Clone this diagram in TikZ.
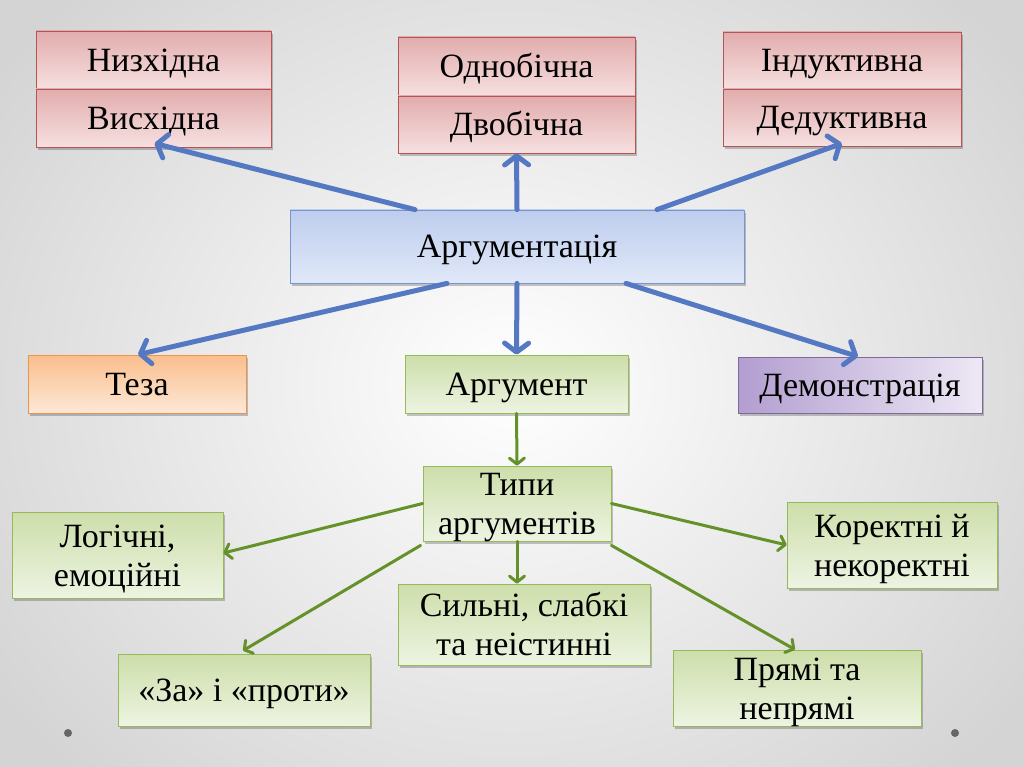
\documentclass[tikz,border=0pt]{standalone}
\usepackage{fontspec}
\setmainfont{Liberation Serif}
\usetikzlibrary{arrows.meta,shadows,calc}
\definecolor{bgedge}{RGB}{212,212,212}
\definecolor{pinktop}{RGB}{226,172,173}
\definecolor{pinkbot}{RGB}{246,224,224}
\definecolor{pinkline}{RGB}{180,85,85}
\definecolor{bluetop}{RGB}{190,205,238}
\definecolor{bluebot}{RGB}{224,232,248}
\definecolor{blueline}{RGB}{120,150,205}
\definecolor{greentop}{RGB}{205,222,170}
\definecolor{greenbot}{RGB}{237,244,226}
\definecolor{greenline}{RGB}{150,185,90}
\definecolor{orangetop}{RGB}{250,190,140}
\definecolor{orangebot}{RGB}{253,232,215}
\definecolor{orangeline}{RGB}{230,150,80}
\definecolor{purpleleft}{RGB}{178,158,208}
\definecolor{purpleright}{RGB}{238,232,245}
\definecolor{purpleline}{RGB}{125,105,155}
\definecolor{bluearrow}{RGB}{85,120,195}
\definecolor{greenarrow}{RGB}{100,145,40}
\tikzset{
  box/.style={draw, line width=0.8pt, inner sep=0pt, align=center,
    font=\fontsize{34}{39}\selectfont, text height=23pt, text depth=0pt,
    drop shadow={shadow xshift=2pt, shadow yshift=-3pt, opacity=0.22, fill=black}},
  twoline/.style={text height=62pt, text depth=0pt},
  pinkbox/.style={box, draw=pinkline, top color=pinktop, bottom color=pinkbot},
  bluebox/.style={box, draw=blueline, top color=bluetop, bottom color=bluebot},
  greenbox/.style={box, draw=greenline, top color=greentop, bottom color=greenbot},
  orangebox/.style={box, draw=orangeline, top color=orangetop, bottom color=orangebot},
  purplebox/.style={box, draw=purpleline, left color=purpleleft, right color=purpleright},
  bluearr/.style={draw=bluearrow, line width=5pt, line cap=round,
    -{Straight Barb[length=9pt, width=24pt, round]}},
  greenarr/.style={draw=greenarrow, line width=3pt, line cap=round,
    -{Straight Barb[length=6pt, width=15pt, round]}},
  dot/.style={circle, fill=black!60, minimum size=8pt, inner sep=0pt}
}
\begin{document}
\begin{tikzpicture}[x=1pt,y=-1pt]
\begin{scope}
\clip (0,0) rectangle (1024,767);
\shade[inner color=white, outer color=bgedge] (-120,-160) rectangle (1144,927);
\end{scope}
\useasboundingbox (0,0) rectangle (1024,767);
\node[dot] (d1) at (68,733) {};
\node[dot] (d2) at (955,733) {};

\node[pinkbox, minimum width=235pt, minimum height=58pt] (n1) at (153.5,60) {Низхідна};
\node[pinkbox, minimum width=235pt, minimum height=58pt] (n2) at (153.5,118) {Висхідна};
\node[pinkbox, minimum width=237pt, minimum height=59pt] (o1) at (516.5,66.5) {Однобічна};
\node[pinkbox, minimum width=237pt, minimum height=57pt] (o2) at (516.5,124.5) {Двобічна};
\node[pinkbox, minimum width=238pt, minimum height=57pt] (i1) at (842,60.5) {Індуктивна};
\node[pinkbox, minimum width=238pt, minimum height=57pt] (i2) at (842,117.5) {Дедуктивна};

\node[bluebox, minimum width=454pt, minimum height=73pt] (arg) at (517,246.5) {Аргументація};

\node[orangebox, minimum width=218pt, minimum height=58pt] (teza) at (137,384) {Теза};
\node[greenbox, minimum width=223pt, minimum height=58pt] (argument) at (516.5,384) {Аргумент};
\node[purplebox, minimum width=244pt, minimum height=56pt] (demo) at (860,385) {Демонстрація};

\node[greenbox, twoline, minimum width=188pt, minimum height=75pt] (types) at (517,503.5) {Типи\\аргументів};
\node[greenbox, twoline, minimum width=211pt, minimum height=86pt] (log) at (117.5,555) {Логічні,\\емоційні};
\node[greenbox, twoline, minimum width=252pt, minimum height=81pt] (strong) at (524,624.5) {Сильні, слабкі\\та неістинні};
\node[greenbox, twoline, minimum width=210pt, minimum height=86pt] (corr) at (892,545) {Коректні й\\некоректні};
\node[greenbox, minimum width=252pt, minimum height=72pt] (za) at (244,690) {«За» і «проти»};
\node[greenbox, twoline, minimum width=248pt, minimum height=76pt] (pryami) at (797,688) {Прямі та\\непрямі};

\draw[bluearr] ($(arg.north)+(-102,0)$) -- ($(n2.south)+(1,-4)$);
\draw[bluearr] (arg.north) -- (o2.south);
\draw[bluearr] ($(arg.north)+(140,0)$) -- ($(i2.south)+(0,-3)$);
\draw[bluearr] ($(arg.south)+(-70,0)$) -- ($(teza.north)+(1,0)$);
\draw[bluearr] (arg.south) -- (argument.north);
\draw[bluearr] ($(arg.south)+(109,0)$) -- ($(demo.north)+(-2,0)$);

\draw[greenarr] (argument.south) -- (types.north);
\draw[greenarr] (types.west) -- ($(log.east)+(0,-2)$);
\draw[greenarr] ($(types.south west)+(-2,4)$) -- ($(za.north)+(-1,-3)$);
\draw[greenarr] (types.south) -- (types.south |- strong.north);
\draw[greenarr] (types.east) -- (corr.west);
\draw[greenarr] ($(types.south east)+(0,4)$) -- ($(pryami.north)+(-2,0)$);
\end{tikzpicture}
\end{document}
